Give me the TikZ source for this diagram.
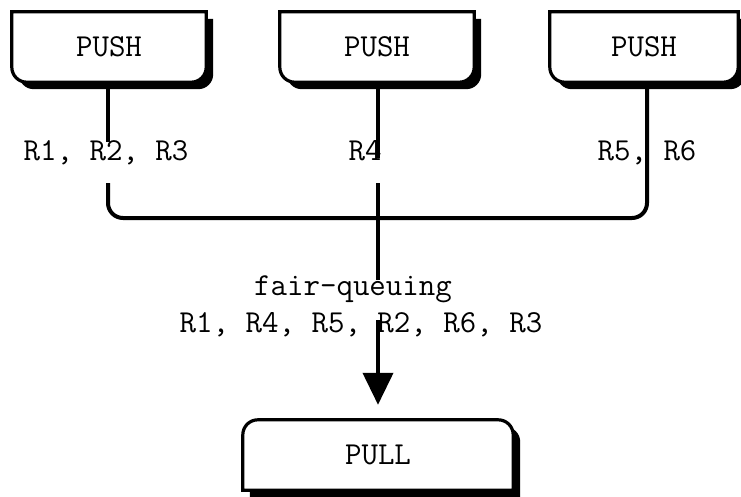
\documentclass[tikz,border=0pt]{standalone}
\usetikzlibrary{arrows.meta}
\newcommand\downpath[2]{([shift={(#2,-#2)}]#1.north west) -- ([shift={(#2,15pt-#2)}]#1.south west) arc[start angle=180,end angle=270,radius=15pt] -- ([shift={(-15pt+#2,-#2)}]#1.south east) arc[start angle=270,end angle=360,radius=15pt] -- ([shift={(#2,-#2)}]#1.north east) -- cycle}
\newcommand\uppath[2]{([shift={(#2,-#2)}]#1.south west) -- ([shift={(#2,-15pt-#2)}]#1.north west) arc[start angle=180,end angle=90,radius=15pt] -- ([shift={(-15pt+#2,-#2)}]#1.north east) arc[start angle=90,end angle=0,radius=15pt] -- ([shift={(#2,-#2)}]#1.south east) -- cycle}
\begin{document}
\begin{tikzpicture}[x=1pt,y=-1pt,
  lbl/.style={font=\fontsize{32}{38}\selectfont\ttfamily, inner sep=0pt},
  boxnode/.style={lbl, minimum width=194pt, minimum height=70pt},
  conn/.style={line width=4pt},
  boxline/.style={line width=3.2pt, fill=white},
  boxshadow/.style={fill=black}]
\useasboundingbox (0,0) rectangle (741,496);
% nodes
\node[boxnode] (p1) at (109,47) {PUSH};
\node[boxnode] (p2) at (377,47) {PUSH};
\node[boxnode, minimum width=188pt] (p3) at (644,47) {PUSH};
\node[boxnode, minimum width=270pt] (pull) at (378,455) {PULL};
% connector points
\coordinate (a1) at (108,142);
\coordinate (b1) at (108,183);
\coordinate (k1) at (108,218);
\coordinate (k3) at (647,218);
\coordinate (m1) at (378,158);
\coordinate (m2) at (378,183);
\coordinate (m3) at (378,280);
\coordinate (m4) at (378,320);
% connectors
\draw[conn] (p1.south -| a1) -- (a1);
\draw[conn, rounded corners=15pt] (b1) -- (k1) -- (k3) -- (k3 |- p3.south);
\draw[conn] (p2.south -| m1) -- (m1);
\draw[conn] (m2) -- (m3);
\draw[conn, -{Triangle[length=32pt,width=30pt]}, shorten >=15pt] (m4) -- (pull.north -| m4);
% boxes
\foreach \n in {p1,p2,p3}{
  \fill[boxshadow] \downpath{\n}{7pt};
  \draw[boxline] \downpath{\n}{0pt};
}
\fill[boxshadow] \uppath{pull}{7pt};
\draw[boxline] \uppath{pull}{0pt};
\node[lbl] at (p1) {PUSH};
\node[lbl] at (p2) {PUSH};
\node[lbl] at (p3) {PUSH};
\node[lbl] at (pull) {PULL};
% labels
\node[lbl, anchor=base] (r123) at (106,160) {R1, R2, R3};
\node[lbl, anchor=base] (r4) at (365,160) {R4};
\node[lbl, anchor=base] (r56) at (647,160) {R5, R6};
\node[lbl, anchor=base] (fq) at (353,295) {fair-queuing};
\node[lbl, anchor=base] (ord) at (361,332) {R1, R4, R5, R2, R6, R3};
\end{tikzpicture}
\end{document}
